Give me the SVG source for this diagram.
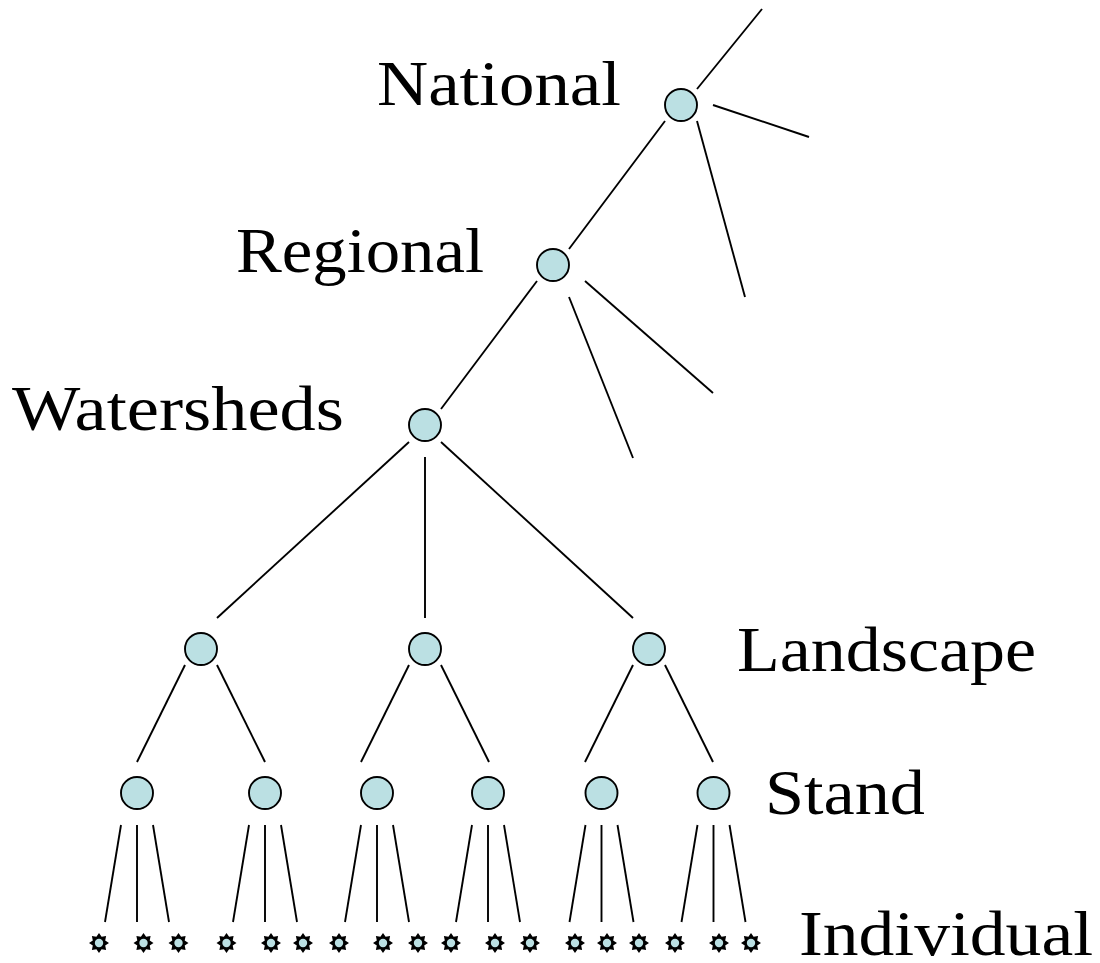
<svg xmlns="http://www.w3.org/2000/svg" width="1100" height="963" viewBox="0 0 1100 963">
<style>
.lbl{font-family:"Liberation Serif","Times New Roman",serif;font-size:63px;fill:#000}
.node{fill:#BBE0E3;stroke:#000;stroke-width:1.9}
.edge{stroke:#000;stroke-width:1.9;fill:none}
</style>
<defs>
<g id="star">
<polygon points="0,-10 2.6,-6.2 7.1,-7.1 6.2,-2.6 10,0 6.2,2.6 7.1,7.1 2.6,6.2 0,10 -2.6,6.2 -7.1,7.1 -6.2,2.6 -10,0 -6.2,-2.6 -7.1,-7.1 -2.6,-6.2" fill="#000"/>
<circle r="4.2" fill="#BBE0E3"/>
</g>
</defs>
<rect width="1100" height="963" fill="#fff"/>
<g id="connectors">
<line class="edge" x1="697" y1="89" x2="762" y2="9"/>
<line class="edge" x1="713" y1="105" x2="809" y2="137"/>
<line class="edge" x1="697" y1="121" x2="745" y2="297"/>
<line class="edge" x1="665" y1="121" x2="569" y2="249"/>
<line class="edge" x1="537" y1="281" x2="441" y2="409"/>
<line class="edge" x1="569" y1="297" x2="633" y2="458"/>
<line class="edge" x1="585" y1="281" x2="713" y2="393"/>
<line class="edge" x1="409" y1="442" x2="217" y2="618"/>
<line class="edge" x1="425" y1="457" x2="425" y2="618"/>
<line class="edge" x1="441" y1="442" x2="633" y2="618"/>
<line class="edge" x1="185" y1="665" x2="137" y2="762"/>
<line class="edge" x1="217" y1="665" x2="265" y2="762"/>
<line class="edge" x1="409" y1="665" x2="361" y2="762"/>
<line class="edge" x1="441" y1="665" x2="489" y2="762"/>
<line class="edge" x1="633" y1="665" x2="585" y2="762"/>
<line class="edge" x1="665" y1="665" x2="713" y2="762"/>
<line class="edge" x1="121" y1="825" x2="105" y2="922"/>
<line class="edge" x1="137" y1="825" x2="137" y2="922"/>
<line class="edge" x1="153" y1="825" x2="169" y2="922"/>
<line class="edge" x1="249" y1="825" x2="233" y2="922"/>
<line class="edge" x1="265" y1="825" x2="265" y2="922"/>
<line class="edge" x1="281" y1="825" x2="297" y2="922"/>
<line class="edge" x1="361" y1="825" x2="345" y2="922"/>
<line class="edge" x1="377" y1="825" x2="377" y2="922"/>
<line class="edge" x1="393" y1="825" x2="409" y2="922"/>
<line class="edge" x1="472" y1="825" x2="456" y2="922"/>
<line class="edge" x1="488" y1="825" x2="488" y2="922"/>
<line class="edge" x1="504" y1="825" x2="520" y2="922"/>
<line class="edge" x1="585.5" y1="825" x2="569.5" y2="922"/>
<line class="edge" x1="601.5" y1="825" x2="601.5" y2="922"/>
<line class="edge" x1="617.5" y1="825" x2="633.5" y2="922"/>
<line class="edge" x1="697.5" y1="825" x2="681.5" y2="922"/>
<line class="edge" x1="713.5" y1="825" x2="713.5" y2="922"/>
<line class="edge" x1="729.5" y1="825" x2="745.5" y2="922"/>
</g>
<g id="national"><circle class="node" cx="681" cy="105" r="16"/><text class="lbl" x="377" y="105" textLength="244" lengthAdjust="spacingAndGlyphs">National</text></g>
<g id="regional"><circle class="node" cx="553" cy="265" r="16"/><text class="lbl" x="236" y="271.5" textLength="248" lengthAdjust="spacingAndGlyphs">Regional</text></g>
<g id="watersheds"><circle class="node" cx="425" cy="425" r="16"/><text class="lbl" x="12" y="430" textLength="332" lengthAdjust="spacingAndGlyphs">Watersheds</text></g>
<g id="landscape-label"><text class="lbl" x="737" y="671" textLength="299" lengthAdjust="spacingAndGlyphs">Landscape</text></g>
<g id="landscape-1"><circle class="node" cx="201" cy="649" r="16"/></g>
<g id="landscape-2"><circle class="node" cx="425" cy="649" r="16"/></g>
<g id="landscape-3"><circle class="node" cx="649" cy="649" r="16"/></g>
<g id="stand-label"><text class="lbl" x="765" y="813.5" textLength="160" lengthAdjust="spacingAndGlyphs">Stand</text></g>
<g id="stand-1"><circle class="node" cx="137" cy="793" r="16"/></g>
<g id="stand-2"><circle class="node" cx="265" cy="793" r="16"/></g>
<g id="stand-3"><circle class="node" cx="377" cy="793" r="16"/></g>
<g id="stand-4"><circle class="node" cx="488" cy="793" r="16"/></g>
<g id="stand-5"><circle class="node" cx="601.5" cy="793" r="16"/></g>
<g id="stand-6"><circle class="node" cx="713.5" cy="793" r="16"/></g>
<g id="individual-label"><text class="lbl" x="799" y="955" textLength="294" lengthAdjust="spacingAndGlyphs">Individual</text></g>
<g id="individuals">
<use href="#star" x="99" y="943"/>
<use href="#star" x="143.5" y="943"/>
<use href="#star" x="178.5" y="943"/>
<use href="#star" x="226.5" y="943"/>
<use href="#star" x="271" y="943"/>
<use href="#star" x="303" y="943"/>
<use href="#star" x="339" y="943"/>
<use href="#star" x="383" y="943"/>
<use href="#star" x="418" y="943"/>
<use href="#star" x="451" y="943"/>
<use href="#star" x="495" y="943"/>
<use href="#star" x="530" y="943"/>
<use href="#star" x="575" y="943"/>
<use href="#star" x="607" y="943"/>
<use href="#star" x="639" y="943"/>
<use href="#star" x="675" y="943"/>
<use href="#star" x="719" y="943"/>
<use href="#star" x="751" y="943"/>
</g>
</svg>
